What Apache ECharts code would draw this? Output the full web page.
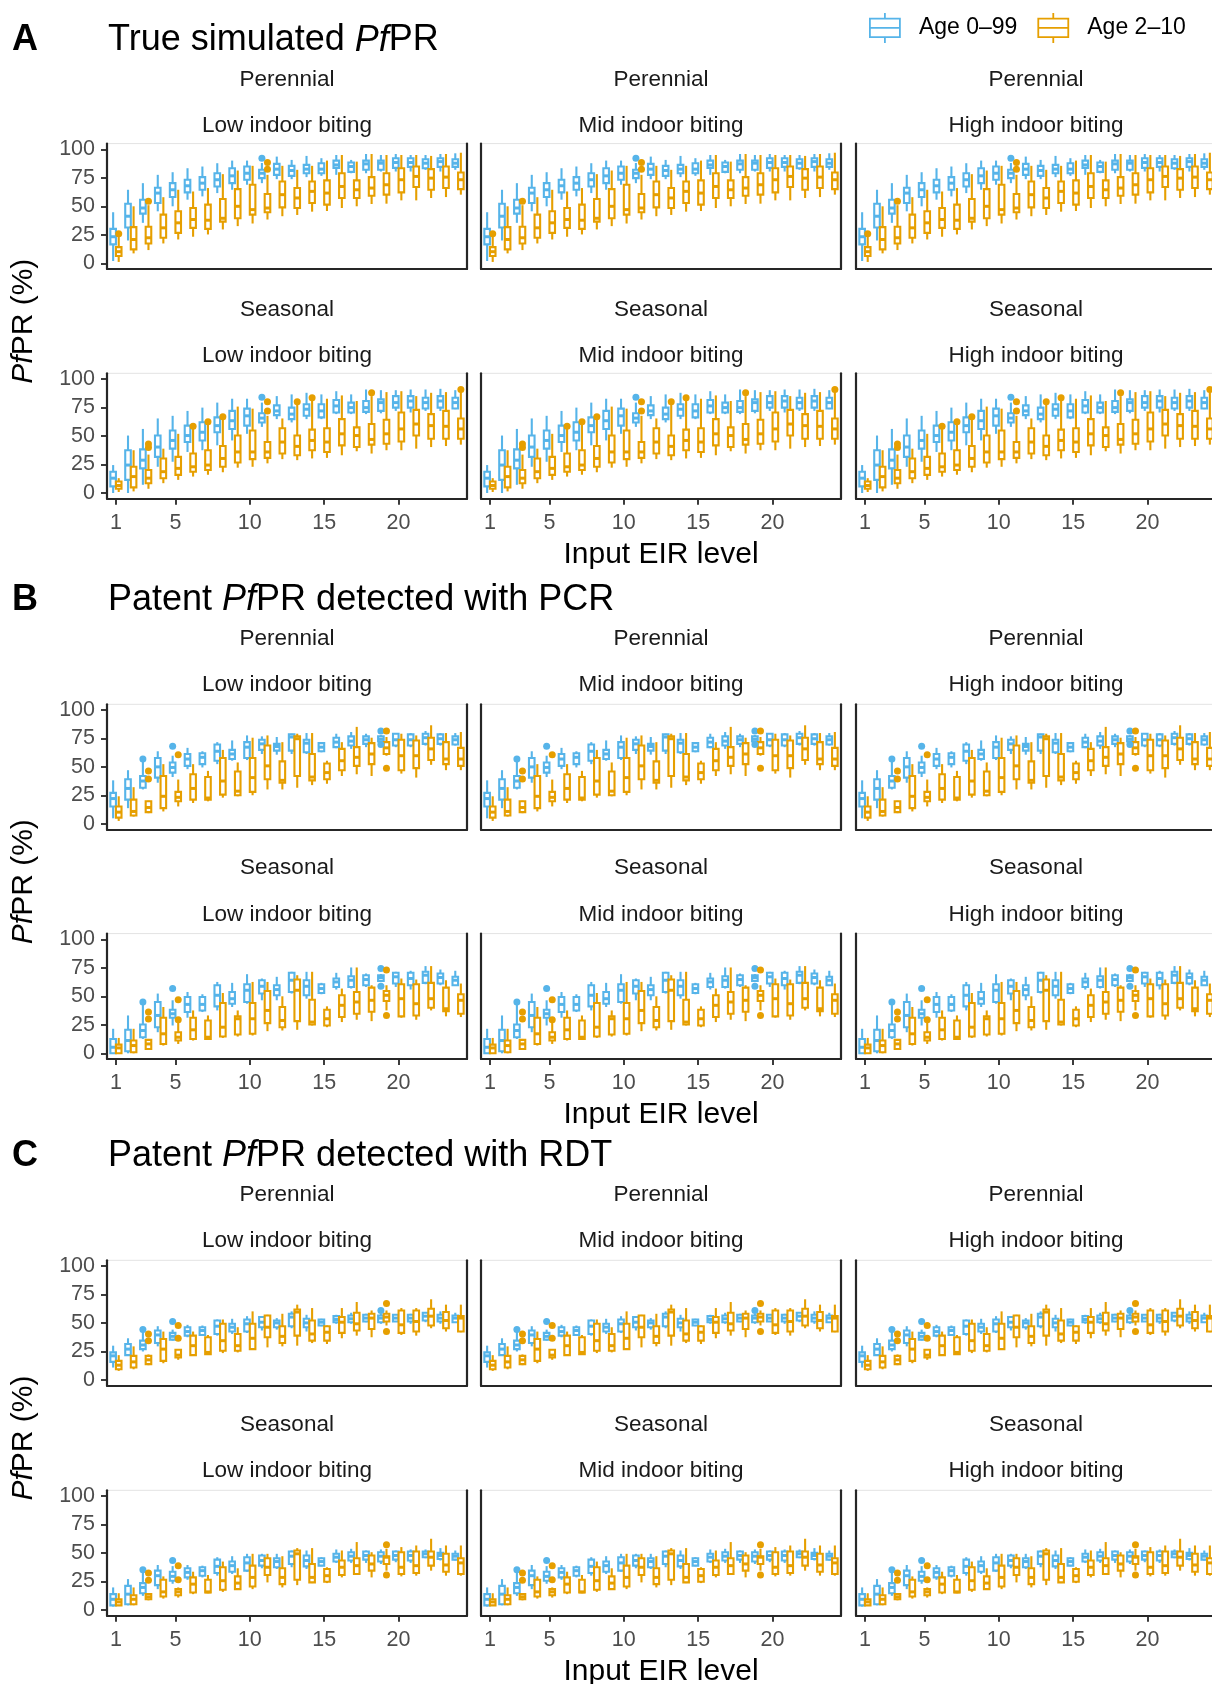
<!DOCTYPE html>
<html>
<head>
<meta charset="utf-8">
<script src="https://cdn.jsdelivr.net/npm/echarts@6/dist/echarts.min.js"></script>
<style>
html,body{margin:0;padding:0;background:#fff;}
#chart{width:1212px;height:1684px;}
</style>
</head>
<body>
<div id="chart"></div>
<script>
// ---------------- DATA ----------------
const levels = [1,2,3,4,5,6,7,8,9,10,11,12,13,14,15,16,17,18,19,20,21,22,23,24];
const xTickValues = [1,5,10,15,20];
const yTickValues = [0,25,50,75,100];
const seriesNames = ['Age 0\u201399','Age 2\u201310'];
const stripTop = ['Perennial','Seasonal'];
const stripBiting = ['Low indoor biting','Mid indoor biting','High indoor biting'];

// each box: [lower whisker, Q1, median, Q3, upper whisker]
// A: true simulated PfPR
const truePerAll = [[2,16.6,23.3,30.2,44.8],[20,31.4,41.3,52.3,64.5],[35.5,43.6,48.5,55.8,70.3],[45.6,52.9,61.6,66.3,77.6],[50,58.1,64.5,70.3,79.9],[55.8,62.2,68,73.3,83.4],[58.7,64.5,70.3,75.6,84.9],[61.6,67.4,73.3,79,87.8],[64.5,70.3,76.7,83.4,90.1],[68.9,73.3,79,84.9,90.1],[70.3,74.7,79,82,88],[73.8,77.6,82.6,87.2,93.6],[73.8,76.7,81.4,85.5,90.7],[75.6,79,82.6,86.3,94.2],[76.7,79,82.6,87.8,92.2],[77.6,83.7,86.3,90.1,95],[79,80.2,84.9,88.4,90.7],[79,82,87.2,90.1,95.9],[80.5,82,87.8,90.1,95],[80.5,83.7,88.4,92.2,95.9],[80.5,84.6,88.4,92.2,95],[82,83.4,87.8,91.3,95],[80.5,84.6,89.2,92.2,95.9],[82,84.6,87.8,91.3,96.5]];
const truePerKid = [[1.2,6.4,10.2,14.2,23.8],[8.7,12.2,20.9,31.7,50],[11.6,17.4,22.4,32,51],[17.4,22.4,31.1,42.7,58],[20.9,26.7,35.5,45.6,64.5],[23.3,31.1,38.4,48.5,63],[25.3,30.2,37.8,51.5,66],[29.7,36.6,39.5,56.4,78.2],[32.6,39.5,50,65.1,81.4],[34.9,42.7,47.1,68.9,85.5],[38.4,44.8,48.5,60.8,77.6],[41.3,49.1,60.2,71.8,85.5],[42.4,48.5,57.3,66,82],[45.3,52.9,63.1,71.8,85.5],[45.9,51.5,61.6,72.7,90.1],[48.5,57.3,67.4,79,95],[50,57.3,64.5,72.7,89.2],[52,59.3,66,75.6,95.9],[52.3,60.2,68.9,79,95],[55.2,62.2,73.3,83.4,95],[55.2,66.9,76.2,84.9,95],[57.3,64.5,74.7,82.6,94.2],[58.1,66,75.6,84.9,95.9],[60.2,65.1,73.3,79.7,97]];
const truePerAllOut = [[11,92.2]];
const truePerKidOut = [[1,25.9],[3,54.4],[11,82.5],[11,88.5]];

const trueSeaAll = [[0,5.8,13,18.7,24.5],[0,11.5,24.5,37.5,50.4],[7.2,21.6,28.8,38.3,56.2],[23,31.7,40.3,50.4,65.4],[27.4,38.9,46.1,54.8,67.7],[36,44.7,50.4,59.1,72],[37.5,46.1,53.3,62,74.9],[41.8,53.3,59.1,66.3,79.3],[46.1,56.2,63.4,72,82.7],[51.9,59.1,67.7,74,82.7],[58,61.9,65.7,70,79.3],[64.8,68.3,72,76.9,85],[61.9,64.8,69.2,74.9,86.5],[64.8,67.7,73.5,77.8,87.9],[64.8,66.3,72,77.8,86.5],[69.2,70.6,76.4,81.6,89.3],[69.2,70.6,74.9,79.3,86.5],[69.2,71.2,74.9,80.7,90.8],[69.9,72,79.3,82.1,90.2],[72,74.9,79.3,85,90.2],[70.6,74.9,80.7,85,90.8],[72,74.1,79.3,83.6,90.8],[72,74.9,80.7,85,91.4],[73.5,74.1,79.3,83.6,90.2]];
const trueSeaKid = [[0.9,3.7,6.6,10.1,13],[1.4,4.9,14.4,23,37.5],[3.7,8.6,13,20.2,33.7],[8.6,13,18.7,30.3,38.9],[11.5,15.9,21.6,31.7,51.9],[14.4,18.7,23,34.6,56.2],[16,20.2,24.5,37.5,59.7],[18.2,23,30.3,41.2,64.8],[22.2,26.8,36,50.4,75.8],[23,29.7,36,54.8,74],[26,30.8,36,44.7,67.7],[29.7,34.6,44.7,56.8,65.4],[28.8,33.1,40.9,50.4,77.8],[30.3,37.5,46.1,55.6,81.6],[30.8,36,44.7,56.8,82.7],[33.1,41.8,51.9,64.8,85.6],[36.6,40.3,50.4,57.6,80.7],[34.6,42.4,47,60.5,85],[37.5,43.2,51.9,64.3,88.5],[37.5,45.2,56.2,70.6,89.3],[38.9,50.4,60.5,72.9,85],[40.3,47.6,59.1,69.2,87.9],[41.2,47.6,58.5,72,88.5],[42.4,47.6,56.2,65.4,88.5]];
const trueSeaAllOut = [[11,84.1]];
const trueSeaKidOut = [[3,40],[3,43],[6,58.5],[7,62.5],[8,66.9],[11,72],[11,80],[13,80.1],[14,83.6],[18,87.9],[24,90.8]];

// B: patent PfPR detected with PCR
const pcrPerAll = [[5,15.4,22.3,27.3,38.3],[13.9,21.4,31.2,39.2,47.2],[30.3,31.8,37.7,42.1,54.9],[36.2,40.7,50.1,57.9,63.8],[41.2,45.1,49.6,54,59.9],[48.1,51,57,61.4,66.8],[49.6,52.5,58.5,62,63.8],[52.5,55.5,63.8,69.7,71.8],[55.5,57,61.4,65,73.3],[56.1,57.9,67.4,71.8,77.7],[61.4,65,70.3,73.9,76.9],[60.8,64.4,68,70.3,76.3],[61.4,64.4,76.3,78.6,79.2],[61.4,62.9,70.9,73.9,79.8],[62.9,63.8,67.4,70.9,71.8],[66.5,67.4,71.8,75.7,79.2],[65.9,68.8,72.7,76.9,80.7],[67.4,70.3,73.9,76.9,79.2],[72,72.5,74.5,77,78],[67.4,68.8,73.9,79.2,79.8],[67.4,68.8,73.9,78.6,79.8],[68.8,70.3,75.7,79.2,81.6],[68.8,70.3,74.8,78.6,79.8],[68.8,69.7,73.9,76.9,79.8]];
const pcrPerKid = [[2.7,5.6,10.4,15.4,24.3],[6.5,7.4,11,21.4,32.3],[9.5,10.4,14.5,19.9,20.5],[11,13.9,24.3,42.1,52.5],[15.4,19.9,23.4,28.2,39],[18.4,21.4,31.2,43.6,52.5],[19.9,21.4,22.8,41.2,46.6],[23.1,25.8,37.7,57.9,65],[24.3,25.2,28.8,46,54],[25.2,28.2,40.7,57.9,75.7],[30.3,39.2,51,68.8,77.7],[30.3,36.2,38.3,54.9,71.8],[31.8,42.1,74.8,76.9,79.2],[34.1,38.3,41.2,61.4,79.8],[35.3,39.2,45.1,53.1,55.5],[42.1,47.2,55.5,65.9,71.8],[43.6,51,58.5,67.4,85.2],[42.1,52.5,61.4,70.9,75.7],[59.9,61.4,66.8,71.8,76.3],[44.2,47.2,59.9,73.9,79.2],[40.7,49,59.9,73.3,77.7],[51.9,56.1,65.9,75.7,86.6],[47.2,52.5,57,71.8,79.8],[47.2,51,57,66.8,80.7]];
const pcrPerAllOut = [[3,57],[5,68.2],[19,81.6],[19,69.8]];
const pcrPerKidOut = [[3,39.5],[3,46.6],[5,60.8],[19,81.6],[19,49]];

const pcrSeaAll = [[0,0,5.3,12.6,21.5],[0,1.8,11.2,20.6,33.2],[12.6,14.1,20,25.3,42.9],[18.5,22.9,33.2,45,52.4],[24.4,31.2,34.7,38.2,46.5],[31.2,36.2,42.9,49.4,53.8],[36.2,37.6,42.9,49.4,51.8],[37.6,41.2,50.9,59.7,62.6],[40.6,43.5,47.9,53.8,61.8],[43.5,45,55.3,60.6,69.4],[46.5,52.4,58.8,64.1,65.6],[46.5,50.9,55.9,59.7,67.1],[52.4,53.8,64.1,70.6,71.5],[47.9,50.9,58.8,64.1,71.5],[51.8,52.9,56.8,60.6,61.8],[55.9,58.2,62.6,65.6,70.6],[56.8,58.2,64.1,67.6,75.3],[58.2,59.7,64.7,68.5,70],[62.5,63.5,66.5,68.5,69.5],[58.2,61.2,67.1,70.6,71.5],[55.9,59.7,65.6,70.6,72.4],[60.6,61.8,68.5,71.5,76.5],[59.7,61.2,66.5,70,73.5],[59.7,59.7,64.1,67.1,72.4]];
const pcrSeaKid = [[0,0,4.7,7.6,13.5],[0,0.9,6.8,11.2,21.5],[2.9,3.8,8.2,11.8,12.6],[6.8,8.2,17.1,31.2,40.6],[8.2,11.2,14.1,18.5,27],[11.2,12.6,20.6,31.2,37.6],[12.6,12.6,14.1,28.8,33.2],[13.5,14.7,22.9,44.1,52.9],[14.7,16.5,30.3,32.4,37.6],[15.6,17.1,30.3,44.1,62.6],[19.4,26.5,37.6,54.7,62.6],[20,22.9,28.8,40.6,50],[20.6,28.2,55.3,64.7,68.5],[24.4,25.3,27.4,47,71.5],[22.9,24.4,30.3,38.2,41.2],[27.4,31.8,42.1,50.9,56.8],[29.4,34.7,45,53.8,75.3],[28.2,36.5,46.5,57.6,59.7],[37.6,45.9,50.9,54.7,59.7],[31.2,32.4,47.9,60.6,65.6],[29.4,33.2,43.5,60.6,64.7],[37.6,40,47.9,61.8,76.5],[32.4,37,39.1,57.6,64.1],[31.8,34.7,46.5,51.8,61.2]];
const pcrSeaAllOut = [[3,45],[5,56.8],[19,74.4],[19,58.8]];
const pcrSeaKidOut = [[3,30],[3,36.2],[5,29.4],[5,47],[19,73],[19,33.2]];

// C: patent PfPR detected with RDT
const rdtPerAll = [[10.9,15.9,21.2,24.2,30.1],[21.2,21.8,27.1,31.6,36.6],[25,27.1,30.7,34.5,42.5],[29.5,32.4,39.5,43.4,47.2],[34.5,35.4,38.3,41.3,44.2],[37.5,38.9,42.5,46.3,48.4],[38.9,39.5,43.4,46.3,47.8],[38.9,40.4,47.2,52.2,53.1],[40.4,42.5,46.3,49.3,53.7],[41.3,42.5,49.3,53.1,56],[43.4,46.3,50.7,55.2,56],[44.2,46.3,50.1,52.2,54.3],[45.4,47.2,55.2,58.1,60.2],[42.5,46.3,50.1,53.7,57.2],[47.2,47.8,50.7,53.1,53.7],[49.3,50.7,53.1,56,57.2],[49.3,50.7,53.7,56.6,59],[50.7,51.3,54.3,57.2,58.1],[49.3,50.7,54.3,56.6,58.1],[51.3,51.3,54.3,57.2,57.2],[49.3,51.3,54.3,57.2,58.1],[50.7,52.2,56,59,59.6],[49.3,51.3,54.3,57.2,60.2],[50.1,50.7,54.3,56.6,59]];
const rdtPerKid = [[8,9.4,13,16.8,21.8],[9.4,10.9,15.9,21.2,29.5],[13,13.9,17.7,21.2,22.4],[14.7,16.8,27.1,36,42.5],[17.7,19.8,21.8,26.5,27.1],[21.2,21.8,30.1,38.9,42.5],[22.1,22.7,24.2,37.5,39.5],[23.6,25.7,34.5,49.3,53.1],[24.2,25.7,30.1,40.4,46.3],[26.5,27.1,36.6,49.3,60.2],[28.6,37.5,46.3,56.6,57.2],[29.5,32.4,38.3,47.2,58.1],[30.1,38.9,59.6,61.9,66.1],[32.4,34.5,40.4,52.2,63.1],[31.6,34.5,41.9,47.2,47.8],[36.6,41.3,50.7,55.2,63.1],[38.9,43.4,49.3,59,68.4],[37.5,44.8,54.3,58.1,61],[47.8,51.3,55.2,58.1,61],[39.5,41.3,48.4,61,63.1],[38.9,42.5,51.3,61,63.1],[45.4,47.8,56,62.5,70.8],[42.5,45.4,52.2,59.6,66.1],[41.9,42.5,54.3,56,66.1]];
const rdtPerAllOut = [[3,44.2],[5,51.3],[19,61]];
const rdtPerKidOut = [[3,34.5],[3,40.4],[5,36.6],[5,47.8],[19,67],[19,42.5]];

const rdtSeaAll = [[3,4.1,9.4,13.9,19.8],[4.1,5,13.9,21.2,27.1],[12.4,14.7,19.8,23.6,33.6],[18.3,21.8,30.1,34.5,39.5],[23,25.7,29.5,33.6,38.5],[26.5,28.6,33,36.6,39.5],[28.6,30.1,34.5,37.5,38.9],[30.1,32.4,38.3,44.2,46.3],[31.6,33.6,38.9,42.5,47.2],[33.6,34.5,41.3,46.3,49.3],[36.6,38.9,43.4,47.8,49.3],[36,37.5,42.5,45.4,49.3],[37.5,40.4,47.2,51.3,52.2],[36,38.3,43.4,47.8,52.2],[38.3,38.9,42.5,45.4,46.3],[41.3,42.5,46.3,49.3,53.1],[41.3,43.4,47.2,50.7,53.7],[41.3,44.2,47.8,51.3,52.2],[40.4,42.5,47.2,50.7,53.1],[41.9,44.2,47.8,51.3,52.2],[41.3,43.4,47.8,51.3,53.1],[45.4,46.3,49.3,51.3,53.1],[43.4,44.8,47.8,50.1,54.3],[43.4,44.2,47.2,49.3,52.2]];
const rdtSeaKid = [[4.1,4.1,7.1,9.4,14.7],[4.1,5,9.4,13,19.8],[8.5,9.4,11.5,13.9,14.5],[10,11.8,15.9,26.5,29.5],[10.9,13,15.9,18.3,19.8],[13.9,15.3,22.7,28.6,33.6],[14.7,15.3,15.9,26.5,30.7],[15.9,17.7,25.7,37.5,42.5],[17.7,18.3,23.6,29.5,36.6],[18.3,20.6,28.6,38.9,49.3],[24.2,30.7,37.5,45.4,49.3],[19.8,22.7,28.6,36.6,47.2],[21.8,26.5,49.3,52.2,54.3],[23.6,24.2,28.6,40.4,54.3],[23.6,24.8,30.1,36,37.5],[28.6,30.7,37.5,43.4,52.2],[30.7,31.6,38.9,45.4,59.6],[28.6,34.5,40.4,47.8,50.7],[34.5,40.4,46.3,47.2,53.7],[29.5,31.6,37.5,50.7,55.2],[30.1,32.4,38.9,51.3,56.6],[34.5,38.9,46.3,51.3,62.5],[30.1,33.6,39.5,49.3,56.6],[30.1,31.6,41.3,45.4,56.6]];
const rdtSeaAllOut = [[3,35.4],[5,43.4]];
const rdtSeaKidOut = [[3,26],[3,32.4],[5,26.5],[5,38.9],[19,57.2],[19,30.7]];

// ---------------- LAYOUT / STYLE ----------------
const BLUE = '#56B4E9', ORANGE = '#E69F00';
const DARK = '#262626', TICK_TXT = '#4D4D4D', TXT = '#000000';
const FONT = '"Liberation Sans", Arial, Helvetica, sans-serif';
const COL_LEFT = [107, 481, 856];
const PANEL_W = 360, PANEL_H = 125.4;
const ROW_TOP = [[143.6, 373.3], [704.3, 933.6], [1260.3, 1490.3]];
const TITLE_Y = [40.5, 600, 1156];
const STRIP_OFF = [[-64, -17.8], [-65.5, -19.3], [-65.5, -19.3]];
const BOX_W = 0.375, DODGE = 0.1875;
const LW = 2.1, LW_MED = 3, OUT_R = 3.5;

const sections = [
  { letter: 'A', title: ['True simulated ', 'Pf', 'PR'],
    rows: [[truePerAll, truePerKid, truePerAllOut, truePerKidOut], [trueSeaAll, trueSeaKid, trueSeaAllOut, trueSeaKidOut]] },
  { letter: 'B', title: ['Patent ', 'Pf', 'PR detected with PCR'],
    rows: [[pcrPerAll, pcrPerKid, pcrPerAllOut, pcrPerKidOut], [pcrSeaAll, pcrSeaKid, pcrSeaAllOut, pcrSeaKidOut]] },
  { letter: 'C', title: ['Patent ', 'Pf', 'PR detected with RDT'],
    rows: [[rdtPerAll, rdtPerKid, rdtPerAllOut, rdtPerKidOut], [rdtSeaAll, rdtSeaKid, rdtSeaAllOut, rdtSeaKidOut]] }
];

function boxRenderer(dodge, color) {
  return function (params, api) {
    const lv = api.value(0) + dodge;
    const pLow = api.coord([lv, api.value(1)]);
    const pQ1 = api.coord([lv, api.value(2)]);
    const pMed = api.coord([lv, api.value(3)]);
    const pQ3 = api.coord([lv, api.value(4)]);
    const pHigh = api.coord([lv, api.value(5)]);
    const hw = api.size([BOX_W, 0])[0] / 2;
    const x = pMed[0];
    return { type: 'group', children: [
      { type: 'line', shape: { x1: x, y1: pLow[1], x2: x, y2: pQ1[1] }, style: { stroke: color, lineWidth: LW } },
      { type: 'line', shape: { x1: x, y1: pQ3[1], x2: x, y2: pHigh[1] }, style: { stroke: color, lineWidth: LW } },
      { type: 'rect', shape: { x: x - hw, y: pQ3[1], width: 2 * hw, height: pQ1[1] - pQ3[1] }, style: { fill: '#ffffff', stroke: color, lineWidth: LW } },
      { type: 'line', shape: { x1: x - hw, y1: pMed[1], x2: x + hw, y2: pMed[1] }, style: { stroke: color, lineWidth: LW_MED } }
    ]};
  };
}
function outRenderer(dodge, color) {
  return function (params, api) {
    const p = api.coord([api.value(0) + dodge, api.value(1)]);
    return { type: 'circle', shape: { cx: p[0], cy: p[1], r: OUT_R }, style: { fill: color } };
  };
}

const grids = [], xAxes = [], yAxes = [], series = [], graphics = [];

sections.forEach((sec, s) => {
  graphics.push({ type: 'text', x: 12, y: TITLE_Y[s], style: { text: sec.letter, font: 'bold 36px ' + FONT, fill: TXT, textVerticalAlign: 'middle', verticalAlign: 'middle' } });
  graphics.push({ type: 'text', x: 108, y: TITLE_Y[s], style: {
    text: sec.title[0] + '{i|' + sec.title[1] + '}' + sec.title[2],
    font: '36px ' + FONT, fontSize: 36, fontFamily: FONT, fill: TXT,
    textVerticalAlign: 'middle', verticalAlign: 'middle',
    rich: { i: { fontStyle: 'italic', fontSize: 36, fontFamily: FONT, fill: TXT, color: TXT } } } });
  const yMid = (ROW_TOP[s][0] + ROW_TOP[s][1] + PANEL_H) / 2;
  graphics.push({ type: 'text', x: 24, y: yMid, rotation: Math.PI / 2, style: {
    text: '{i|Pf}{n|PR (%)}', fontSize: 30, fontFamily: FONT, fill: TXT,
    textAlign: 'center', align: 'center', textVerticalAlign: 'middle', verticalAlign: 'middle',
    rich: { i: { fontStyle: 'italic', fontSize: 30, fontFamily: FONT, fill: TXT, color: TXT },
            n: { fontSize: 30, fontFamily: FONT, fill: TXT, color: TXT } } } });
  graphics.push({ type: 'text', x: COL_LEFT[1] + PANEL_W / 2, y: ROW_TOP[s][1] + PANEL_H + 56, style: {
    text: 'Input EIR level', font: '30px ' + FONT, fill: TXT,
    textAlign: 'center', align: 'center', textVerticalAlign: 'middle', verticalAlign: 'middle' } });

  sec.rows.forEach((rowData, r) => {
    const top = ROW_TOP[s][r];
    const [allBoxes, kidBoxes, allOut, kidOut] = rowData;
    for (let c = 0; c < 3; c++) {
      const g = grids.length;
      const cx = COL_LEFT[c] + PANEL_W / 2;
      graphics.push({ type: 'text', x: cx, y: top + STRIP_OFF[s][0], style: { text: stripTop[r], font: '22.5px ' + FONT, fill: '#1a1a1a', textAlign: 'center', align: 'center', textVerticalAlign: 'middle', verticalAlign: 'middle' } });
      graphics.push({ type: 'text', x: cx, y: top + STRIP_OFF[s][1], style: { text: stripBiting[c], font: '22.5px ' + FONT, fill: '#1a1a1a', textAlign: 'center', align: 'center', textVerticalAlign: 'middle', verticalAlign: 'middle' } });

      grids.push({ left: COL_LEFT[c], top: top, width: PANEL_W, height: PANEL_H,
        show: true, borderColor: '#e3e3e3', borderWidth: 1, backgroundColor: '#ffffff',
        containLabel: false, outerBoundsMode: 'none' });
      const bottomRow = r === 1;
      xAxes.push({ gridIndex: g, type: 'value', min: 0.4, max: 24.6,
        axisLine: { show: true, onZero: false, lineStyle: { color: DARK, width: 2.2 } },
        axisTick: { show: bottomRow, length: 6, customValues: xTickValues, lineStyle: { color: DARK, width: 1.8 } },
        axisLabel: { show: bottomRow, customValues: xTickValues, margin: 13, fontSize: 21.5, fontFamily: FONT, color: TICK_TXT },
        splitLine: { show: false } });
      const firstCol = c === 0;
      yAxes.push({ gridIndex: g, type: 'value', min: -5, max: 105, position: 'left',
        axisLine: { show: true, onZero: false, lineStyle: { color: DARK, width: 2.2 } },
        axisTick: { show: firstCol, length: 6, customValues: yTickValues, lineStyle: { color: DARK, width: 1.8 } },
        axisLabel: { show: firstCol, customValues: yTickValues, margin: 12, fontSize: 21.5, fontFamily: FONT, color: TICK_TXT },
        splitLine: { show: false } });
      yAxes.push({ gridIndex: g, type: 'value', min: -5, max: 105, position: 'right',
        axisLine: { show: true, onZero: false, lineStyle: { color: DARK, width: 2.2 } },
        axisTick: { show: false }, axisLabel: { show: false }, splitLine: { show: false } });

      const yi = 2 * g;
      series.push({ type: 'custom', name: seriesNames[0], xAxisIndex: g, yAxisIndex: yi, silent: true,
        itemStyle: { color: BLUE }, encode: { x: 0, y: [1, 2, 3, 4, 5] },
        data: levels.map((lv, i) => [lv].concat(allBoxes[i])), renderItem: boxRenderer(-DODGE, BLUE) });
      series.push({ type: 'custom', name: seriesNames[1], xAxisIndex: g, yAxisIndex: yi, silent: true,
        itemStyle: { color: ORANGE }, encode: { x: 0, y: [1, 2, 3, 4, 5] },
        data: levels.map((lv, i) => [lv].concat(kidBoxes[i])), renderItem: boxRenderer(DODGE, ORANGE) });
      series.push({ type: 'custom', name: seriesNames[0], xAxisIndex: g, yAxisIndex: yi, silent: true,
        itemStyle: { color: BLUE }, encode: { x: 0, y: 1 },
        data: allOut, renderItem: outRenderer(-DODGE, BLUE) });
      series.push({ type: 'custom', name: seriesNames[1], xAxisIndex: g, yAxisIndex: yi, silent: true,
        itemStyle: { color: ORANGE }, encode: { x: 0, y: 1 },
        data: kidOut, renderItem: outRenderer(DODGE, ORANGE) });
    }
  });
});

const ICON = 'path://M15,0L15,5.7M0,5.7L30,5.7L30,24.3L0,24.3ZM0,15L30,15M15,24.3L15,30';

const option = {
  animation: false,
  backgroundColor: '#ffffff',
  textStyle: { fontFamily: FONT },
  legend: {
    left: 864, top: 7, itemWidth: 30, itemHeight: 30, itemGap: 20, selectedMode: false,
    textStyle: { fontSize: 23, fontFamily: FONT, color: TXT, padding: [0, 0, 0, 14] },
    data: [
      { name: seriesNames[0], icon: ICON, itemStyle: { color: '#ffffff', borderColor: BLUE, borderWidth: 1.8 } },
      { name: seriesNames[1], icon: ICON, itemStyle: { color: '#ffffff', borderColor: ORANGE, borderWidth: 1.8 } }
    ]
  },
  grid: grids,
  xAxis: xAxes,
  yAxis: yAxes,
  series: series,
  graphic: { elements: graphics }
};

const chart = echarts.init(document.getElementById('chart'), null, { renderer: 'canvas', width: 1212, height: 1684 });
chart.setOption(option);
</script>
</body>
</html>
